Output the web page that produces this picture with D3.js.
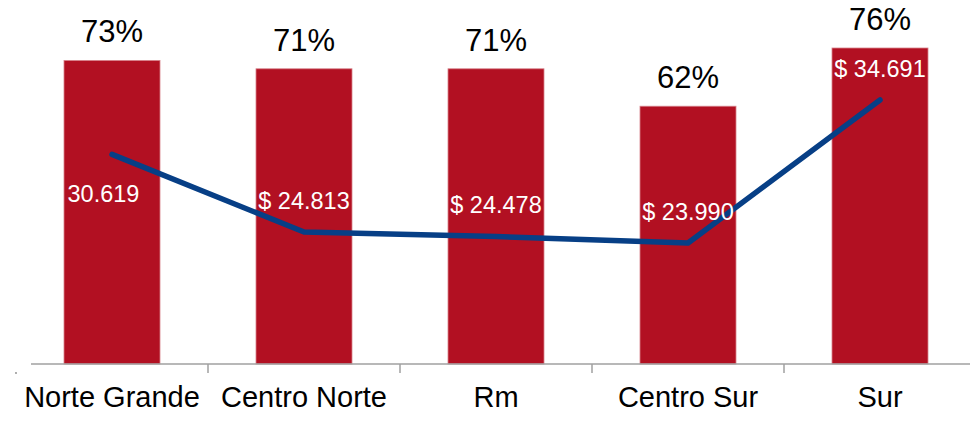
<!DOCTYPE html>
<html><head><meta charset="utf-8">
<script src="https://cdn.jsdelivr.net/npm/d3@7/dist/d3.min.js"></script>
<style>body{margin:0;background:#fff}svg{display:block}text{font-family:"Liberation Sans",Arial,sans-serif}</style>
</head><body><svg id="c" width="970" height="421"></svg>
<script>
const categories = ["Norte Grande","Centro Norte","Rm","Centro Sur","Sur"];
const percentValues = [73,71,71,62,76];
const percentLabels = ["73%","71%","71%","62%","76%"];
const incomeValues = [30619,24813,24478,23990,34691];
const incomeLabels = ["30.619","$ 24.813","$ 24.478","$ 23.990","$ 34.691"];

const svg = d3.select("#c");
const x = d3.scaleBand().domain(categories).range([16,976]).paddingInner(0).paddingOuter(0);
const yBar = d3.scaleLinear().domain([0,76]).range([364,48]);
const yLine = d3.scaleLinear().domain([23990,34691]).range([243,100]);
const barW = x.bandwidth()*0.5;
const cx = d => x(d)+x.bandwidth()/2;

// bars
svg.selectAll("rect.bar").data(categories).join("rect")
  .attr("x", d=>cx(d)-barW/2).attr("width", barW)
  .attr("y", (d,i)=>yBar(percentValues[i]))
  .attr("height", (d,i)=>yBar(0)-yBar(percentValues[i]))
  .attr("fill","#b21022").attr("stroke","#d7828b").attr("stroke-width",0.8);

// axis
const axis = d3.axisBottom(x).tickSize(0).tickFormat("");
const gx = svg.append("g").attr("transform","translate(0,364)").call(axis);
gx.select(".domain").remove();
svg.append("line").attr("x1",31).attr("x2",970).attr("y1",364).attr("y2",364)
  .attr("stroke","#a0a0a0").attr("stroke-width",1.5);
svg.selectAll("line.tk").data(categories.slice(1)).join("line")
  .attr("x1",d=>x(d)).attr("x2",d=>x(d)).attr("y1",364).attr("y2",373)
  .attr("stroke","#a0a0a0").attr("stroke-width",1.5);
svg.append("circle").attr("cx",16).attr("cy",373).attr("r",0.9).attr("fill","#888");

svg.selectAll("text.cat").data(categories).join("text")
  .attr("x",cx).attr("y",407).attr("text-anchor","middle")
  .attr("font-size",29).attr("fill","#000").text(d=>d);

// percent labels
svg.selectAll("text.pct").data(categories).join("text")
  .attr("x",cx).attr("y",(d,i)=>yBar(percentValues[i])-18)
  .attr("text-anchor","middle").attr("font-size",31).attr("fill","#000")
  .text((d,i)=>percentLabels[i]);

// line
const line = d3.line().x(d=>cx(d)).y((d,i)=>yLine(incomeValues[i]));
svg.append("path").datum(categories).attr("d",line)
  .attr("fill","none").attr("stroke","#073f86").attr("stroke-width",5.5)
  .attr("stroke-linecap","round").attr("stroke-linejoin","round");

// line labels
svg.selectAll("text.inc").data(categories).join("text")
  .attr("x",(d,i)=> i===0 ? cx(d)-8.5 : cx(d))
  .attr("y",(d,i)=> yLine(incomeValues[i]) + (i===0 ? 48 : -23))
  .attr("text-anchor","middle").attr("font-size",23.5).attr("fill","#fff")
  .text((d,i)=>incomeLabels[i]);
</script></body></html>
